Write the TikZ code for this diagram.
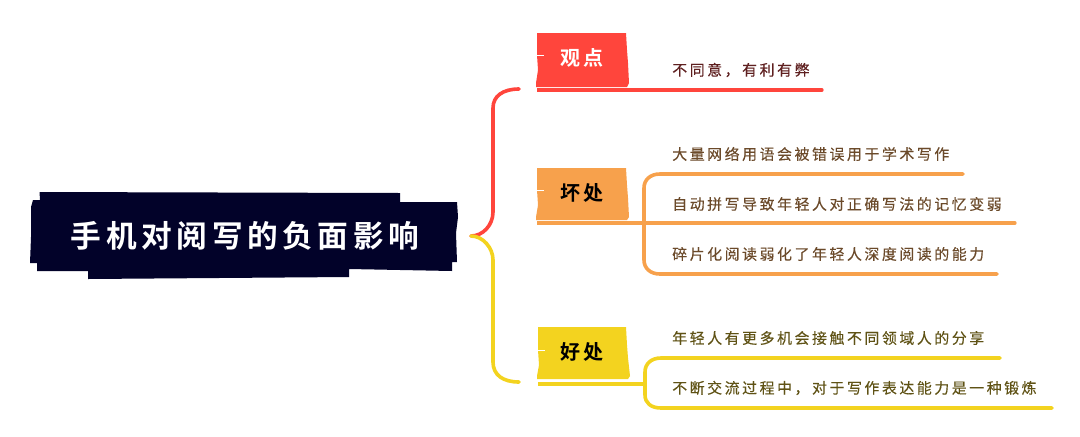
\documentclass[tikz,border=0pt]{standalone}
\usepackage{fontspec}
\newfontfamily\cjkreg[LetterSpace=17,FakeBold=0.25]{Noto Sans CJK SC}
\newfontfamily\cjkbold[LetterSpace=14]{Noto Sans CJK SC Bold}
\newfontfamily\cjktitle[LetterSpace=15]{Noto Sans CJK SC Bold}
\definecolor{navy}{HTML}{020229}
\definecolor{cred}{HTML}{FF453C}
\definecolor{corange}{HTML}{F7A14C}
\definecolor{cyellow}{HTML}{F3D31F}
\definecolor{tred}{HTML}{5E1F1F}
\definecolor{torange}{HTML}{6B4A2A}
\definecolor{tyellow}{HTML}{5F5215}
\tikzset{
  leaf/.style={anchor=west,inner sep=0pt,font=\cjkreg\fontsize{11.2pt}{13pt}\selectfont},
  tagtext/.style={inner sep=0pt,font=\cjkbold\fontsize{15pt}{18pt}\selectfont},
  link/.style={line width=2.7pt,line cap=round,line join=round},
  strip/.style={line width=2.4pt,line cap=round},
  base/.style={line width=3pt},
  scratch/.style={draw=white,line width=0.5pt}
}
\begin{document}
\begin{tikzpicture}[x=0.75pt,y=-0.75pt]
\useasboundingbox (0,0) rectangle (1080,436);
% root shape
\fill[navy] (39.5,192) -- (400,193) -- (400,202) -- (457,202) -- (458,217) -- (456,233) -- (457,262) -- (452,262) -- (452,271) -- (349,269) -- (349,277) -- (88,279) -- (88,271) -- (37,271) -- (37,263) -- (30,263) -- (31,237) -- (31,207) -- (33,200) -- (40,200) -- cycle;
\node[inner sep=0pt,text=white,font=\cjktitle\fontsize{23pt}{27pt}\selectfont] (root) at (245,236) {手机对阅写的负面影响};
% tag shapes
\fill[cred] (537,33) -- (626,33) -- (627,50) -- (628,63) -- (629,83) -- (627,87) -- (536,87) -- (536,83) -- (538,70) -- (537,55) -- cycle;
\fill[corange] (537,168) -- (626,168) -- (627,185) -- (628,198) -- (629,217) -- (627,220) -- (536,220) -- (536,217) -- (538,205) -- (537,190) -- cycle;
\fill[cyellow] (538,327) -- (626,327) -- (627,345) -- (628,358) -- (630,376) -- (628,379) -- (537,379) -- (537,376) -- (539,365) -- (538,350) -- cycle;
\draw[scratch] (537,55) -- (544,55);
\draw[scratch] (537,190) -- (544,190);
\draw[scratch] (538,350) -- (545,350);
% named points
\coordinate (hub) at (471,236);
\coordinate (redend) at (519,89);
\coordinate (yelend) at (519,382);
\coordinate (rs) at (537,90);
\coordinate (rm) at (627,90);
\coordinate (re) at (822,90);
\coordinate (os) at (537,223);
\coordinate (om) at (627,223);
\coordinate (oe) at (1015,223);
\coordinate (oj) at (644,223);
\coordinate (ot) at (963,174);
\coordinate (ob) at (997,274);
\coordinate (ys) at (538,384);
\coordinate (yj) at (645,384);
\coordinate (yt) at (1000,358);
\coordinate (yb) at (1052,408);
% texts
\node[tagtext,text=white] (tag1) at (582,58) {观点};
\node[tagtext,text=black] (tag2) at (582,193) {坏处};
\node[tagtext,text=black] (tag3) at (582,352) {好处};
\node[leaf,text=tred] (a1) at (672,70) {不同意^^^^ff0c有利有弊};
\node[leaf,text=torange] (b1) at (672,154) {大量网络用语会被错误用于学术写作};
\node[leaf,text=torange] (b2) at (672,204) {自动拼写导致年轻人对正确写法的记忆变弱};
\node[leaf,text=torange] (b3) at (672,254) {碎片化阅读弱化了年轻人深度阅读的能力};
\node[leaf,text=tyellow] (c1) at (672,338) {年轻人有更多机会接触不同领域人的分享};
\node[leaf,text=tyellow] (c2) at (672,388) {不断交流过程中^^^^ff0c对于写作表达能力是一种锻炼};
% connectors
\draw[link,cred] (hub) .. controls (483,236) and (493,225) .. (493,212) -- (493,108) .. controls (493,96) and (503,89) .. (redend);
\draw[link,cyellow] (hub) .. controls (483,236) and (493,248) .. (493,260) -- (493,362) .. controls (493,375) and (503,382) .. (yelend);
\draw[base,cred] (rs) -- (rm);
\draw[strip,cred] (rm) -- (re);
\draw[base,corange] (os) -- (om);
\draw[strip,corange] (om) -- (oe);
\draw[base,cyellow] (ys) -- (yj);
\draw[link,corange] (ot) -- (660,174) .. controls (650,174) and (644,180) .. (644,188) -- (oj) -- (644,260) .. controls (644,268) and (650,274) .. (660,274) -- (ob);
\draw[link,cyellow] (yt) -- (661,358) .. controls (651,358) and (645,364) .. (645,372) -- (yj) -- (645,395) .. controls (645,403) and (651,408) .. (661,408) -- (yb);
\end{tikzpicture}
\end{document}
